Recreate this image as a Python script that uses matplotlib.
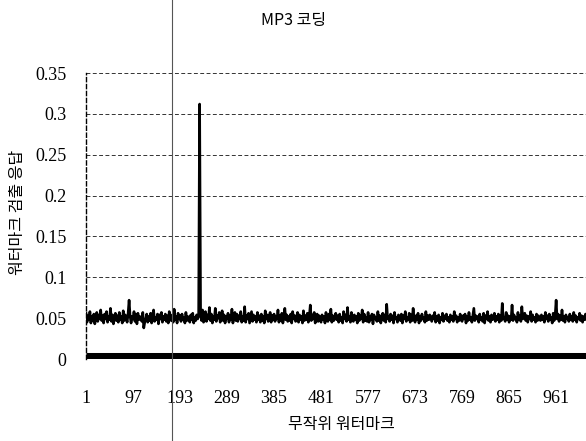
import numpy as np
import matplotlib
matplotlib.use("Agg")
import matplotlib.pyplot as plt
from matplotlib.lines import Line2D

# ── 데이터 ───────────────────────────────────────────────────────────────────
step = 2
# 워터마크 검출 응답 (x 1/1000, 2개 워터마크마다 한 값)
resp_milli = [
    56, 45, 53, 48, 58, 44, 52, 47, 55, 43, 51, 57, 46, 54, 49, 60,
    47, 53, 44, 55, 49, 58, 45, 52, 48, 62, 46, 54, 43, 51, 56, 47,
    53, 45, 57, 48, 52, 44, 59, 47, 54, 50, 45, 56, 72, 53, 44, 52,
    49, 58, 46, 55, 43, 56, 48, 52, 51, 46, 57, 38, 45, 49, 55, 45,
    52, 47, 56, 44, 53, 60, 46, 51, 48, 55, 43, 54, 49, 57, 45, 52,
    48, 55, 46, 53, 44, 58, 50, 47, 54, 45, 61, 48, 52, 44, 56, 49,
    53, 46, 55, 48, 51, 44, 57, 47, 52, 49, 45, 54, 48, 56, 44, 51,
    47, 54, 49, 52, 312, 55, 47, 60, 45, 53, 58, 46, 54, 49, 63, 47,
    55, 44, 52, 48, 62, 46, 53, 50, 57, 45, 51, 59, 47, 54, 44, 52,
    49, 56, 45, 53, 48, 61, 44, 52, 57, 47, 55, 46, 53, 49, 58, 45,
    52, 47, 64, 45, 53, 49, 56, 44, 51, 58, 46, 54, 48, 52, 45, 57,
    48, 53, 45, 55, 47, 52, 44, 59, 49, 54, 46, 51, 57, 45, 53, 48,
    55, 46, 52, 49, 60, 45, 53, 47, 56, 44, 51, 62, 48, 54, 46, 52,
    47, 55, 44, 58, 49, 53, 46, 51, 57, 45, 54, 48, 52, 44, 59, 47,
    53, 48, 56, 45, 52, 66, 47, 54, 49, 57, 44, 51, 55, 46, 53, 49,
    45, 54, 48, 52, 44, 57, 50, 46, 55, 48, 61, 45, 53, 47, 52, 56,
    48, 53, 45, 55, 47, 51, 44, 58, 49, 54, 46, 63, 48, 52, 45, 57,
    50, 46, 54, 48, 52, 44, 56, 47, 53, 49, 60, 45, 55, 47, 51, 46,
    57, 45, 52, 48, 55, 43, 54, 49, 51, 46, 58, 47, 53, 44, 52, 56,
    47, 54, 45, 67, 49, 52, 46, 55, 48, 53, 44, 57, 49, 51, 45, 54,
    52, 47, 55, 44, 53, 49, 58, 46, 51, 48, 56, 45, 54, 47, 62, 49,
    45, 53, 48, 56, 44, 52, 47, 55, 49, 51, 45, 58, 47, 53, 48, 54,
    50, 46, 53, 49, 57, 45, 52, 47, 54, 44, 51, 48, 56, 46, 53, 49,
    55, 47, 51, 45, 54, 48, 52, 46, 58, 49, 53, 45, 51, 47, 55, 48,
    46, 53, 49, 55, 44, 52, 47, 57, 48, 51, 45, 54, 62, 47, 53, 49,
    52, 45, 55, 48, 51, 46, 56, 44, 53, 49, 58, 47, 52, 45, 54, 48,
    49, 56, 46, 52, 48, 55, 45, 53, 47, 68, 49, 51, 46, 57, 48, 53,
    45, 52, 48, 66, 47, 54, 49, 51, 45, 57, 48, 53, 46, 64, 49, 52,
    56, 47, 53, 45, 52, 49, 58, 46, 54, 48, 51, 45, 55, 47, 53, 49,
    47, 54, 48, 52, 45, 57, 49, 53, 46, 55, 48, 51, 44, 56, 47, 53,
    72, 49, 55, 46, 53, 48, 60, 47, 52, 45, 54, 49, 51, 46, 55, 48,
    52, 46, 57, 48, 53, 45, 51, 49, 56, 47, 53, 45, 52, 48, 55, 49,
]
# 바닥 응답 (x 1/1000, 64개마다 한 값)
base_milli = [2, 2, 2, 2, 2, 2, 2, 2, 2, 2, 2, 2, 2, 2, 2, 2, 2]
base_step = 64

x_ticks = [1, 97, 193, 289, 385, 481, 577, 673, 769, 865, 961]
y_ticks = [0, 0.05, 0.1, 0.15, 0.2, 0.25, 0.3, 0.35]
y_tick_labels = ["0", "0.05", "0.1", "0.15", "0.2", "0.25", "0.3", "0.35"]

resp = np.array(resp_milli) / 1000.0
resp_x = 1 + step * np.arange(len(resp))
base = np.array(base_milli) / 1000.0
base_x = 1 + base_step * np.arange(len(base))

# ── 그림 ─────────────────────────────────────────────────────────────────────
num_font = "Liberation Serif"
kr_font = ["Noto Sans CJK KR", "DejaVu Sans"]

fig = plt.figure(figsize=(5.86, 4.41), dpi=100)
ax = fig.add_axes([86 / 586, 82 / 441, 500 / 586, 286 / 441])

for v in y_ticks[1:]:
    ax.axhline(v, color="#333333", lw=0.7, ls=(0, (4, 2.5)), zorder=1)

ax.plot(base_x, base, color="black", lw=6.5, solid_capstyle="butt", zorder=3)
ax.plot(resp_x, resp, color="black", lw=1.9, zorder=4)

ax.set_xlim(1, 1022)
ax.set_ylim(0, 0.35)
ax.set_xticks(x_ticks)
ax.set_xticklabels([str(t) for t in x_ticks], fontfamily=num_font, fontsize=13)
ax.set_yticks(y_ticks)
ax.set_yticklabels(y_tick_labels, fontfamily=num_font, fontsize=13)
ax.tick_params(length=0, pad=14)
ax.tick_params(axis="x", pad=22)

for s in ["top", "right", "bottom"]:
    ax.spines[s].set_visible(False)
ax.spines["left"].set_linestyle((0, (3, 2)))
ax.spines["left"].set_linewidth(1.0)

fig.text(294 / 586, 1 - 21 / 441, "MP3 코딩", family=kr_font,
         fontsize=11.5, ha="center", va="center")
fig.text(341 / 586, 1 - 424 / 441, "무작위 워터마크", family=kr_font,
         fontsize=11.5, ha="center", va="center")
fig.text(18 / 586, 1 - 212 / 441, "워터마크 검출 응답", family=kr_font,
         fontsize=11.5, ha="center", va="center", rotation=90)

# 스캔 자국 (세로선)
fig.add_artist(Line2D([172 / 586, 172 / 586], [0, 1], color="#555555", lw=0.8))

fig.savefig("out.png", dpi=100)
